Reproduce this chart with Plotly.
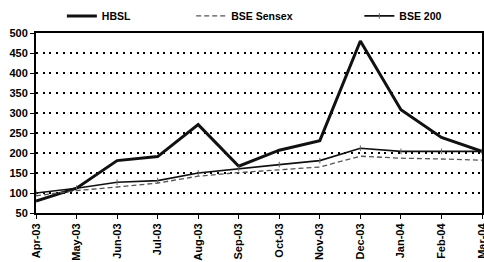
import plotly.graph_objects as go

months = ["Apr-03", "May-03", "Jun-03", "Jul-03", "Aug-03", "Sep-03",
          "Oct-03", "Nov-03", "Dec-03", "Jan-04", "Feb-04", "Mar-04"]
hbsl = [80, 112, 181, 191, 271, 167, 207, 231, 480, 308, 239, 204]
sensex = [93, 106, 115, 125, 142, 151, 158, 165, 192, 187, 185, 182]
bse200 = [100, 112, 127, 131, 150, 161, 171, 181, 212, 204, 204, 204]
y_ticks = [50, 100, 150, 200, 250, 300, 350, 400, 450, 500]

FONT = "Liberation Sans"
x_idx = list(range(len(months)))

fig = go.Figure()
fig.add_trace(go.Scatter(x=x_idx, y=hbsl, name="HBSL", mode="lines",
                         line=dict(color="#111111", width=3), legend="legend"))
fig.add_trace(go.Scatter(x=x_idx, y=sensex, name="BSE Sensex", mode="lines",
                         line=dict(color="#555555", width=1.3, dash="5px,3px"),
                         legend="legend2"))
fig.add_trace(go.Scatter(x=x_idx, y=bse200, name="BSE 200", mode="lines+markers",
                         line=dict(color="#111111", width=1.6),
                         marker=dict(symbol="line-ns", size=4,
                                     line=dict(color="#666666", width=1)),
                         legend="legend3"))

leg_common = dict(orientation="h", yanchor="middle", y=1.095, xanchor="left",
                  bgcolor="rgba(0,0,0,0)",
                  font=dict(family=FONT, size=10.5, color="#000000", weight="bold"))
fig.update_layout(
    width=484, height=262,
    margin=dict(l=36, r=2, t=33, b=49, autoexpand=False),
    paper_bgcolor="white", plot_bgcolor="white",
    showlegend=True,
    legend=dict(x=0.058, **leg_common),
    legend2=dict(x=0.348, **leg_common),
    legend3=dict(x=0.725, **leg_common),
    xaxis=dict(
        range=[0, len(months) - 1], tickmode="array", tickvals=x_idx,
        ticktext=months, tickangle=-90, ticks="outside", ticklen=4,
        tickcolor="#000", tickwidth=1, showgrid=False, zeroline=False,
        showline=True, linecolor="#000", linewidth=2, mirror=True,
        automargin=False, ticklabeloverflow="allow",
        tickfont=dict(family=FONT, size=11, color="#000", weight="bold"),
    ),
    yaxis=dict(
        range=[50, 500], tickmode="array", tickvals=y_ticks,
        ticks="outside", ticklen=4, tickcolor="#000", tickwidth=1,
        showgrid=True, gridcolor="#000000", gridwidth=2, griddash="2px,4.7px",
        zeroline=False, showline=True, linecolor="#000", linewidth=2,
        mirror=True, automargin=False,
        tickfont=dict(family=FONT, size=11, color="#000", weight="bold"),
    ),
)
# remove the default 8px page margin so the figure fills the 484x262 window exactly
fig.write_html(
    "out.html",
    config={"displayModeBar": False},
    post_script="document.body.style.margin='0';"
                "document.body.style.overflow='hidden';"
                "document.documentElement.style.overflow='hidden';",
)
